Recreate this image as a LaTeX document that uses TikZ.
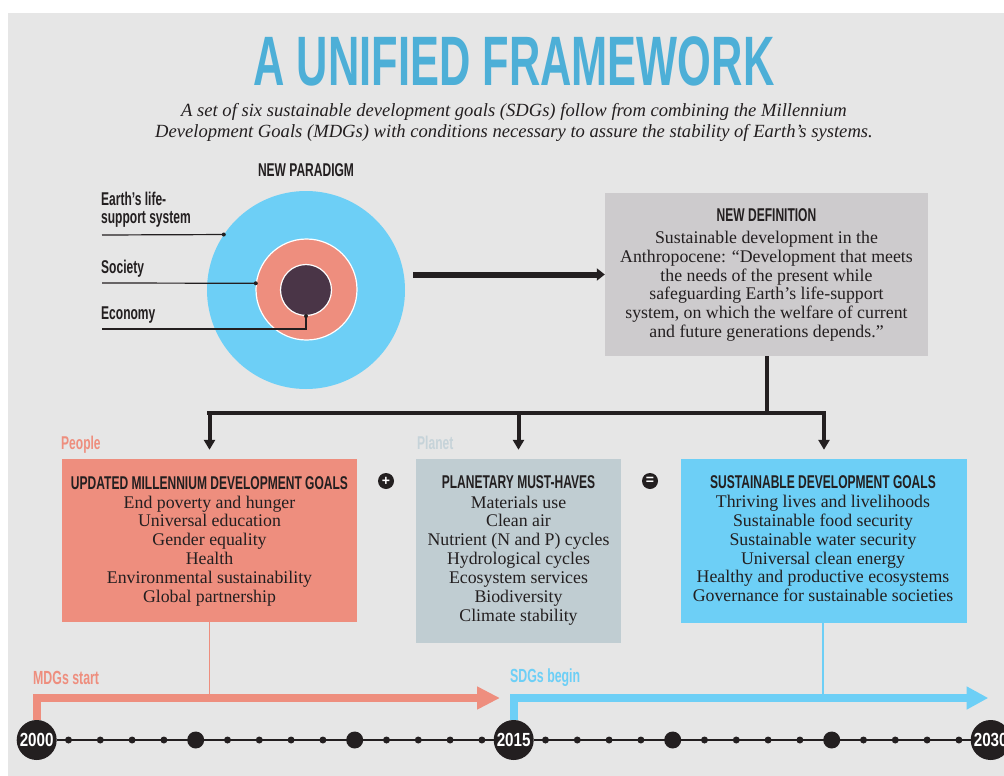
\documentclass[tikz,border=0pt]{standalone}
\usepackage{fontspec}
\setmainfont{Liberation Serif}
\newfontfamily\condf[FakeStretch=0.65]{Liberation Sans Bold}
\newfontfamily\titlef[FakeStretch=0.62]{Liberation Sans Bold}
\newfontfamily\yearf[FakeStretch=0.8]{Liberation Sans Bold}
\newfontfamily\opf{Liberation Sans Bold}
\usetikzlibrary{arrows.meta}
\definecolor{bgc}{HTML}{E6E6E6}
\definecolor{titleblue}{HTML}{4DAFD7}
\definecolor{sky}{HTML}{6DCFF6}
\definecolor{salmon}{HTML}{EE8E7E}
\definecolor{plum}{HTML}{4A3547}
\definecolor{defgray}{HTML}{CDCBCD}
\definecolor{planetgray}{HTML}{C0CDD2}
\definecolor{planetlbl}{HTML}{C6D3D9}
\definecolor{ink}{HTML}{231F20}
\tikzset{
  condlbl/.style={font=\condf\fontsize{18.5}{16}\selectfont, text=ink, inner sep=0pt},
  bodytxt/.style={font=\fontsize{17.8}{18.85}\selectfont, text=ink, align=center, inner sep=0pt},
  panel/.style={inner sep=0pt, draw=none},
  conn/.style={draw=ink, line width=4pt},
  connarrow/.style={draw=ink, line width=4pt, -{Triangle[length=10pt,width=11pt]}},
  leader/.style={draw=ink, line width=1.2pt},
  leaddot/.style={circle, fill=ink, inner sep=0pt, minimum size=4pt},
  opcirc/.style={circle, fill=ink, inner sep=0pt, minimum size=16pt, text=white, font=\opf\fontsize{14}{14}\selectfont},
  yearc/.style={circle, fill=ink, inner sep=0pt, minimum size=40pt, text=white, font=\yearf\fontsize{19}{19}\selectfont},
  tdot/.style={circle, fill=ink, inner sep=0pt, minimum size=7pt},
  bdot/.style={circle, fill=ink, inner sep=0pt, minimum size=17pt},
  tline/.style={draw=ink, line width=1.4pt},
}
\begin{document}
\begin{tikzpicture}[x=1pt,y=-1pt]
\useasboundingbox (0,0) rectangle (1004,776);
\fill[bgc] (8,13) rectangle (1004,776);

% title
\node[anchor=base, inner sep=0pt, text=titleblue, font=\titlef\fontsize{70}{70}\selectfont] (title) at (514,85) {A UNIFIED FRAMEWORK};
\node[anchor=base, inner sep=0pt, text=ink, font=\itshape\fontsize{18.6}{21}\selectfont] (sub1) at (514,116) {A set of six sustainable development goals (SDGs) follow from combining the Millennium};
\node[anchor=base, inner sep=0pt, text=ink, font=\itshape\fontsize{18.6}{21}\selectfont] (sub2) at (514,137.5) {Development Goals (MDGs) with conditions necessary to assure the stability of Earth’s systems.};

% paradigm
\node[condlbl, anchor=base] (paradigm) at (306,176) {NEW PARADIGM};
\node[circle, fill=sky, inner sep=0pt, minimum size=198pt] (earth) at (306,290) {};
\node[circle, fill=salmon, draw=white, line width=1.2pt, inner sep=0pt, minimum size=101pt] (society) at (306.5,289.5) {};
\node[circle, fill=plum, draw=white, line width=1.2pt, inner sep=0pt, minimum size=51pt] (economy) at (306,290) {};

\node[condlbl, anchor=base west] (lEarth1) at (101,205) {Earth’s life-};
\node[condlbl, anchor=base west] (lEarth2) at (101,223) {support system};
\node[condlbl, anchor=base west] (lSociety) at (101,273) {Society};
\node[condlbl, anchor=base west] (lEconomy) at (101,319) {Economy};

\coordinate (le1) at (102,235);
\coordinate (le2) at (102,283);
\coordinate (le3) at (102,329);
\draw[leader] (le1) -- (earth.146.3) node[leaddot] (de1) {};
\draw[leader] (le2) -- (society.173.2) node[leaddot] (de2) {};
\draw[leader] (le3) -| (economy.south) node[leaddot] (de3) {};

% definition box
\node[panel, fill=defgray, minimum width=323pt, minimum height=163pt] (def) at (766.5,274.5) {};
\node[condlbl, anchor=base] (defhead) at (766.5,221.7) {NEW DEFINITION};
\node[bodytxt, anchor=base] (defbody) at (766.5,337.6) {Sustainable development in the\\Anthropocene: “Development that meets\\the needs of the present while\\safeguarding Earth’s life-support\\system, on which the welfare of current\\and future generations depends.”};

\draw[draw=ink, line width=6pt, -{Triangle[length=8pt,width=12pt]}] (earth.east |- 0,274.5) ++(8,0) coordinate (arrS) -- (def.west |- arrS);

% boxes
\node[panel, fill=salmon, minimum width=295pt, minimum height=163pt] (mdg) at (209.5,540.5) {};
\node[panel, fill=planetgray, minimum width=205pt, minimum height=184pt] (planet) at (518.5,551) {};
\node[panel, fill=sky, minimum width=286pt, minimum height=164pt] (sdg) at (824,541) {};

\coordinate (barL) at (207,413);
\coordinate (barR) at (826,413);
\draw[conn] (def.south) -- (def.south |- barL);
\draw[conn] (barL) -- (barR);
\draw[connarrow, shorten >=9pt] (mdg.north |- barL) -- (mdg.north);
\draw[connarrow, shorten >=9pt] (planet.north |- barL) -- (planet.north);
\draw[connarrow, shorten >=9pt] (sdg.north |- barL) -- (sdg.north);

\node[condlbl, anchor=base west, text=salmon] (people) at (61,449) {People};
\node[condlbl, anchor=base west, text=planetlbl] (planetl) at (417,449) {Planet};

\node[condlbl, anchor=base] (mdghead) at (209.5,489) {UPDATED MILLENNIUM DEVELOPMENT GOALS};
\node[bodytxt, anchor=base] (mdgbody) at (209.5,602.3) {End poverty and hunger\\Universal education\\Gender equality\\Health\\Environmental sustainability\\Global partnership};

\node[condlbl, anchor=base] (planethead) at (518.5,488.5) {PLANETARY MUST-HAVES};
\node[bodytxt, anchor=base] (planetbody) at (518.5,621.1) {Materials use\\Clean air\\Nutrient (N and P) cycles\\Hydrological cycles\\Ecosystem services\\Biodiversity\\Climate stability};

\node[condlbl, anchor=base] (sdghead) at (823,488.5) {SUSTAINABLE DEVELOPMENT GOALS};
\node[bodytxt, anchor=base] (sdgbody) at (823,601.8) {Thriving lives and livelihoods\\Sustainable food security\\Sustainable water security\\Universal clean energy\\Healthy and productive ecosystems\\Governance for sustainable societies};

\node[opcirc] (plus) at (386,481) {+};
\node[opcirc] (equals) at (650,481) {=};

% timeline
\node[yearc] (y2000) at (36.7,740) {2000};
\node[yearc] (y2015) at (513.7,740) {2015};
\node[yearc] (y2030) at (990.7,740) {2030};
\draw[tline] (y2000) -- (y2015);
\draw[tline] (y2015) -- (y2030);
\foreach \i in {1,2,3,4,6,7,8,9,11,12,13,14,16,17,18,19,21,22,23,24,26,27,28,29}
  \node[tdot] (d\i) at ({36.7+\i*31.8},740) {};
\foreach \i in {5,10,20,25}
  \node[bdot] (d\i) at ({36.7+\i*31.8},740) {};

\coordinate (mdgTip) at (500,698);
\coordinate (sdgTip) at (988.3,698);
\draw[salmon, line width=1.3pt] (mdg.south) -- (mdg.south |- mdgTip);
\draw[sky, line width=1.3pt] (sdg.south -| 823,0) -- (823,698);
\draw[salmon, line width=8pt, line join=miter, -{Triangle[length=23pt,width=21.6pt]}] (y2000.north) |- (mdgTip);
\draw[sky, line width=8pt, line join=miter, -{Triangle[length=21.6pt,width=21.6pt]}] (y2015.north) |- (sdgTip);

\node[condlbl, anchor=base west, text=salmon, font=\condf\fontsize{19}{19}\selectfont] (mdgstart) at (33,684) {MDGs start};
\node[condlbl, anchor=base west, text=sky, font=\condf\fontsize{19}{19}\selectfont] (sdgbegin) at (510,682) {SDGs begin};
\end{tikzpicture}
\end{document}
